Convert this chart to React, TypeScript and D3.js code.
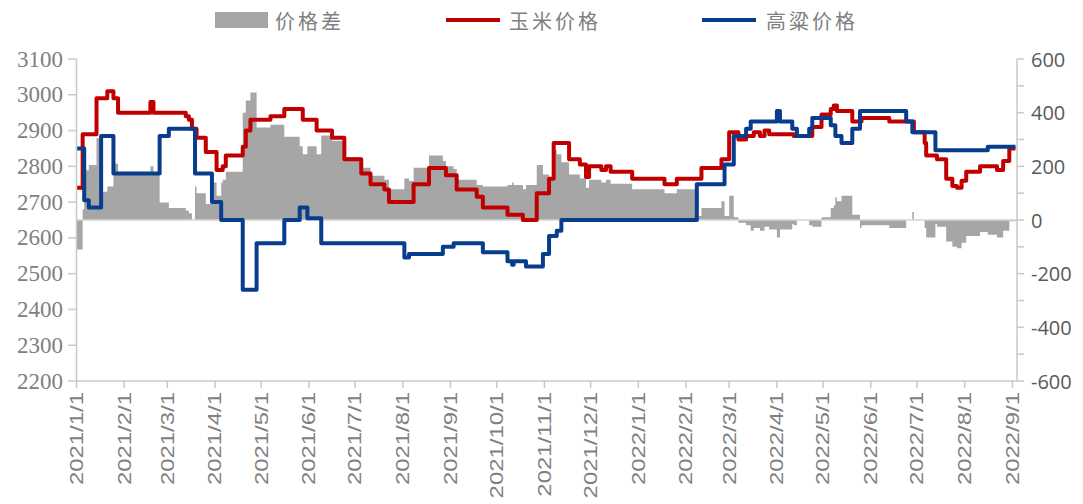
import React, { useEffect, useRef } from 'react'
import * as d3 from 'd3'

// 玉米价格 (left axis), change points of a step series
const cornPrice: [string, number][] = [
  ['2021-01-01', 2740], ['2021-01-05', 2890], ['2021-01-14', 2990], ['2021-01-21', 3010],
  ['2021-01-25', 2990], ['2021-01-28', 2950], ['2021-02-18', 2980], ['2021-02-20', 2950],
  ['2021-03-13', 2940], ['2021-03-15', 2930], ['2021-03-17', 2905], ['2021-03-20', 2880],
  ['2021-03-26', 2840], ['2021-04-02', 2790], ['2021-04-06', 2800], ['2021-04-08', 2830],
  ['2021-04-19', 2855], ['2021-04-21', 2900], ['2021-04-24', 2930], ['2021-05-07', 2940],
  ['2021-05-16', 2960], ['2021-05-28', 2930], ['2021-06-06', 2900], ['2021-06-16', 2880],
  ['2021-06-24', 2820], ['2021-07-05', 2780], ['2021-07-11', 2750], ['2021-07-20', 2735],
  ['2021-07-23', 2700], ['2021-08-08', 2750], ['2021-08-18', 2795], ['2021-08-29', 2775],
  ['2021-09-05', 2735], ['2021-09-18', 2715], ['2021-09-22', 2685], ['2021-10-08', 2665],
  ['2021-10-18', 2650], ['2021-10-27', 2725], ['2021-11-04', 2765], ['2021-11-07', 2865],
  ['2021-11-17', 2820], ['2021-11-24', 2805], ['2021-11-28', 2770], ['2021-11-30', 2800],
  ['2021-12-08', 2790], ['2021-12-11', 2800], ['2021-12-14', 2785], ['2021-12-28', 2765],
  ['2022-01-18', 2750], ['2022-01-26', 2765], ['2022-02-11', 2795], ['2022-02-24', 2820],
  ['2022-03-01', 2895], ['2022-03-07', 2875], ['2022-03-12', 2885], ['2022-03-17', 2895],
  ['2022-03-21', 2885], ['2022-03-24', 2900], ['2022-03-27', 2890], ['2022-04-12', 2885],
  ['2022-04-24', 2910], ['2022-04-30', 2945], ['2022-05-06', 2960], ['2022-05-08', 2970],
  ['2022-05-10', 2955], ['2022-05-20', 2925], ['2022-05-26', 2935], ['2022-06-13', 2925],
  ['2022-06-29', 2895], ['2022-07-06', 2865], ['2022-07-07', 2830], ['2022-07-14', 2820],
  ['2022-07-20', 2765], ['2022-07-24', 2745], ['2022-07-27', 2740], ['2022-07-30', 2760],
  ['2022-08-02', 2785], ['2022-08-11', 2800], ['2022-08-22', 2790], ['2022-08-26', 2815],
  ['2022-08-30', 2850], ['2022-09-03', 2850],
]

// 高粱价格 (left axis)
const sorghumPrice: [string, number][] = [
  ['2021-01-01', 2850], ['2021-01-06', 2705], ['2021-01-09', 2685], ['2021-01-17', 2885],
  ['2021-01-25', 2780], ['2021-02-24', 2885], ['2021-03-02', 2905], ['2021-03-19', 2780],
  ['2021-03-30', 2700], ['2021-04-05', 2650], ['2021-04-19', 2455], ['2021-04-28', 2585],
  ['2021-05-16', 2650], ['2021-05-26', 2685], ['2021-05-31', 2655], ['2021-06-09', 2585],
  ['2021-08-02', 2545], ['2021-08-05', 2555], ['2021-08-27', 2575], ['2021-09-03', 2585],
  ['2021-09-22', 2560], ['2021-10-08', 2535], ['2021-10-11', 2525], ['2021-10-12', 2535],
  ['2021-10-20', 2520], ['2021-10-31', 2555], ['2021-11-04', 2605], ['2021-11-09', 2620],
  ['2021-11-12', 2650], ['2022-02-05', 2650], ['2022-02-08', 2750], ['2022-02-26', 2805],
  ['2022-03-04', 2885], ['2022-03-12', 2905], ['2022-03-15', 2925], ['2022-04-01', 2955],
  ['2022-04-03', 2925], ['2022-04-11', 2905], ['2022-04-14', 2885], ['2022-04-22', 2905],
  ['2022-04-24', 2935], ['2022-05-06', 2915], ['2022-05-09', 2885], ['2022-05-13', 2865],
  ['2022-05-20', 2905], ['2022-05-25', 2955], ['2022-06-24', 2925], ['2022-06-28', 2895],
  ['2022-07-13', 2845], ['2022-08-16', 2855], ['2022-09-03', 2855],
]

const leftTicks = [2200, 2300, 2400, 2500, 2600, 2700, 2800, 2900, 3000, 3100]
const rightTicks = [-600, -500, -400, -300, -200, -100, 0, 100, 200, 300, 400, 500, 600]
const rightLabels = [-600, -400, -200, 0, 200, 400, 600]
const legendNames = ['价格差', '玉米价格', '高粱价格']

const RED = '#c00000'
const BLUE = '#083c8c'
const GRAY = '#a6a6a6'
const AXIS = '#c8c8c8'

const parse = d3.timeParse('%Y-%m-%d')

type Pt = { date: Date; v: number }

export default function App() {
  const ref = useRef<HTMLDivElement | null>(null)

  useEffect(() => {
    const container = d3.select(ref.current!)
    container.selectAll('*').remove()
    const width = 1083
    const height = 504
    const svg = container.append('svg')
      .attr('width', width).attr('height', height)
      .style('position', 'absolute').style('left', '0px').style('top', '0px')
      .style('background', '#fff')

    const corn: Pt[] = cornPrice.map(d => ({ date: parse(d[0])!, v: d[1] }))
    const sorghum: Pt[] = sorghumPrice.map(d => ({ date: parse(d[0])!, v: d[1] }))

    // price difference = corn - sorghum, evaluated at every change date
    const valueAt = (s: Pt[], t: number) => {
      let v = s[0].v
      for (const p of s) { if (+p.date <= t) v = p.v; else break }
      return v
    }
    const allDates = Array.from(new Set([...corn, ...sorghum].map(d => +d.date))).sort((a, b) => a - b)
    const diff: Pt[] = allDates.map(t => ({ date: new Date(t), v: valueAt(corn, t) - valueAt(sorghum, t) }))

    const x = d3.scaleTime().domain([new Date(2021, 0, 1), new Date(2022, 8, 4)]).range([76.5, 1017])
    const yL = d3.scaleLinear().domain([2200, 3100]).range([381, 59])
    const yR = d3.scaleLinear().domain([-600, 600]).range([381, 59])

    // area
    svg.append('path').datum(diff)
      .attr('d', d3.area<Pt>().x(d => x(d.date)).y0(yR(0)).y1(d => yR(d.v)).curve(d3.curveStepAfter))
      .attr('fill', GRAY)
    svg.append('line').attr('x1', x.range()[0]).attr('x2', x.range()[1]).attr('y1', yR(0)).attr('y2', yR(0))
      .attr('stroke', '#d4d4d4').attr('stroke-width', 1.5)

    const line = d3.line<Pt>().x(d => x(d.date)).y(d => yL(d.v)).curve(d3.curveStepAfter)
    svg.append('path').datum(corn).attr('d', line).attr('fill', 'none').attr('stroke', RED)
      .attr('stroke-width', 4).attr('stroke-linejoin', 'round')
    svg.append('path').datum(sorghum).attr('d', line).attr('fill', 'none').attr('stroke', BLUE)
      .attr('stroke-width', 4).attr('stroke-linejoin', 'round')

    // left axis
    const gl = svg.append('g')
    gl.append('line').attr('x1', 76.5).attr('x2', 76.5).attr('y1', 59).attr('y2', 381).attr('stroke', AXIS).attr('stroke-width', 1.5)
    leftTicks.forEach(t => {
      gl.append('line').attr('x1', 68).attr('x2', 76.5).attr('y1', yL(t)).attr('y2', yL(t)).attr('stroke', AXIS).attr('stroke-width', 1.5)
      gl.append('text').attr('x', 63).attr('y', yL(t)).attr('text-anchor', 'end').attr('dominant-baseline', 'central')
        .attr('font-family', 'Liberation Serif, DejaVu Serif, serif').attr('font-size', 23).attr('fill', '#808080').text(t)
    })

    // right axis
    const gr = svg.append('g')
    gr.append('line').attr('x1', 1017).attr('x2', 1017).attr('y1', 59).attr('y2', 381).attr('stroke', AXIS).attr('stroke-width', 1.5)
    rightTicks.forEach(t => {
      gr.append('line').attr('x1', 1017).attr('x2', 1024).attr('y1', yR(t)).attr('y2', yR(t)).attr('stroke', AXIS).attr('stroke-width', 1.5)
    })
    rightLabels.forEach(t => {
      gr.append('text').attr('x', 1031).attr('y', yR(t)).attr('dominant-baseline', 'central')
        .attr('font-family', 'Open Sans, sans-serif').attr('font-size', 20).attr('fill', '#595959').text(t)
    })

    // bottom axis
    const gb = svg.append('g')
    gb.append('line').attr('x1', 76.5).attr('x2', 1017).attr('y1', 381).attr('y2', 381).attr('stroke', AXIS).attr('stroke-width', 1.5)
    const months = d3.timeMonth.range(new Date(2021, 0, 1), new Date(2022, 8, 2))
    months.forEach(m => {
      const px = x(m)
      gb.append('line').attr('x1', px).attr('x2', px).attr('y1', 381).attr('y2', 388).attr('stroke', AXIS).attr('stroke-width', 1.5)
      gb.append('text')
        .attr('transform', `translate(${px},392) rotate(-90) scale(1.33,1)`)
        .attr('text-anchor', 'end').attr('dominant-baseline', 'central')
        .attr('font-family', 'Liberation Sans, Arial, sans-serif').attr('font-size', 18).attr('fill', '#808080')
        .text(`${m.getFullYear()}/${m.getMonth() + 1}/${m.getDate()}`)
    })

    // legend
    const lg = svg.append('g').attr('font-family', 'Noto Sans CJK SC, sans-serif').attr('font-size', 20).attr('fill', '#808080')
    lg.append('rect').attr('x', 215).attr('y', 12).attr('width', 53).attr('height', 16).attr('fill', GRAY)
    lg.append('text').attr('x', 275).attr('y', 20).attr('dominant-baseline', 'central').attr('letter-spacing', 3).text(legendNames[0])
    lg.append('line').attr('x1', 446).attr('x2', 500).attr('y1', 20).attr('y2', 20).attr('stroke', RED).attr('stroke-width', 4)
    lg.append('text').attr('x', 509).attr('y', 20).attr('dominant-baseline', 'central').attr('letter-spacing', 3).text(legendNames[1])
    lg.append('line').attr('x1', 702).attr('x2', 756).attr('y1', 20).attr('y2', 20).attr('stroke', BLUE).attr('stroke-width', 4)
    lg.append('text').attr('x', 766).attr('y', 20).attr('dominant-baseline', 'central').attr('letter-spacing', 3).text(legendNames[2])
  }, [])

  return <div ref={ref} />
}
